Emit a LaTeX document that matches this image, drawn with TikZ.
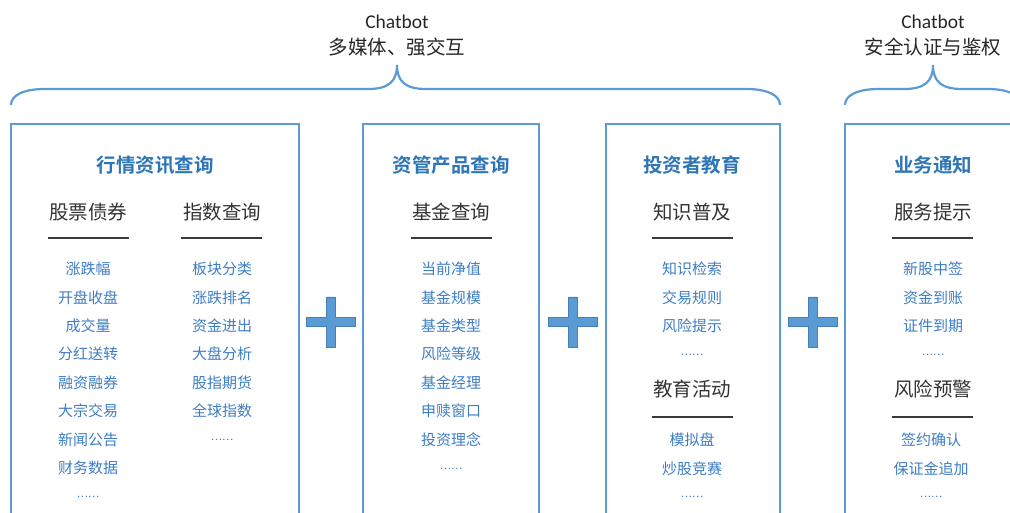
\documentclass[tikz,border=0pt]{standalone}
\usepackage{fontspec}
\setmainfont{Carlito}
\newfontfamily\cjk{Noto Sans CJK SC}[BoldFont={Noto Sans CJK SC Bold}]
\usetikzlibrary{positioning}
\definecolor{frame}{HTML}{5B9BD5}
\definecolor{headblue}{HTML}{2E75B6}
\definecolor{itemblue}{HTML}{3D7DC3}
\definecolor{rulegray}{HTML}{3A3A3A}
\definecolor{plusedge}{HTML}{4A7FB5}

\begin{document}
\begin{tikzpicture}[x=1pt,y=-1pt,
  panel/.style={draw=frame,line width=2.6pt},
  bracket/.style={draw=frame,line width=2.2pt},
  heading/.style={font=\cjk\bfseries\fontsize{19.5}{22}\selectfont,text=headblue,inner sep=0pt},
  subhead/.style={font=\cjk\fontsize{19.5}{22}\selectfont,text=black!80,inner sep=0pt},
  entry/.style={font=\cjk\fontsize{15}{18}\selectfont,text=itemblue,inner sep=0pt},
  more/.style={font=\cjk\fontsize{10.5}{12}\selectfont,text=itemblue,inner sep=0pt},
  rule/.style={draw=rulegray,line width=1.8pt},
  caption/.style={font=\fontsize{19.5}{22}\selectfont,text=black!85,inner sep=0pt},
  plus sign/.style={fill=frame,draw=plusedge,line width=0.6pt},
]
\useasboundingbox (0,0) rectangle (1010,513);
\clip (0,0) rectangle (1010,513);

% captions and braces
\node[caption] (bot-a) at (397,22) {Chatbot};
\node[caption,font=\cjk\fontsize{19.5}{22}\selectfont] (bot-a-text) at (397,47) {多媒体、强交互};
\node[caption] (bot-b) at (933,22) {Chatbot};
\node[caption,font=\cjk\fontsize{19.5}{22}\selectfont] (bot-b-text) at (933,47) {安全认证与鉴权};
\draw[bracket] (11,105) .. controls (11,95) and (24,89) .. (45,89) -- (368,89)
  .. controls (388,89) and (397,82) .. (397,65) .. controls (397,82) and (406,89) .. (426,89)
  -- (746,89) .. controls (767,89) and (780,95) .. (780,105);
\draw[bracket] (845,105) .. controls (845,95) and (858,89) .. (879,89) -- (904,89)
  .. controls (924,89) and (933,82) .. (933,65) .. controls (933,82) and (942,89) .. (962,89)
  -- (987,89) .. controls (1008,89) and (1021,95) .. (1021,105);

% panels
\draw[panel] (11,530) -- (11,124) -- (299,124) -- (299,530);
\draw[panel] (363,530) -- (363,124) -- (539,124) -- (539,530);
\draw[panel] (606,530) -- (606,124) -- (780,124) -- (780,530);
\draw[panel] (845,530) -- (845,124) -- (1021,124) -- (1021,530);

% plus signs
\foreach \px in {331,573,813} {
  \begin{scope}[shift={(\px,322)}]
  \filldraw[plus sign] (-24.5,-4.6) -- (-4.6,-4.6) -- (-4.6,-25) -- (4.6,-25) -- (4.6,-4.6)
    -- (24.5,-4.6) -- (24.5,4.6) -- (4.6,4.6) -- (4.6,25) -- (-4.6,25) -- (-4.6,4.6)
    -- (-24.5,4.6) -- cycle;
  \end{scope}
}

% panel 1
\node[heading] (quote) at (155,165) {行情资讯查询};
\node[subhead] (stock) at (88,212) {股票债券};
\node[subhead] (index) at (222,212) {指数查询};
\draw[rule] (48,238) -- (129,238);
\draw[rule] (181,238) -- (262,238);
\foreach[count=\i] \t in {涨跌幅,开盘收盘,成交量,分红送转,融资融券,大宗交易,新闻公告,财务数据}
  \node[entry] (stock-\i) at (88,{240.6+28.4*\i}) {\t};
\node[more] (stock-more) at (88,497) {……};
\foreach[count=\i] \t in {板块分类,涨跌排名,资金进出,大盘分析,股指期货,全球指数}
  \node[entry] (index-\i) at (222,{240.6+28.4*\i}) {\t};
\node[more] (index-more) at (222,440) {……};

% panel 2
\node[heading] (asset) at (451,165) {资管产品查询};
\node[subhead] (fund) at (451,212) {基金查询};
\draw[rule] (411,238) -- (492,238);
\foreach[count=\i] \t in {当前净值,基金规模,基金类型,风险等级,基金经理,申赎窗口,投资理念}
  \node[entry] (fund-\i) at (451,{240.6+28.4*\i}) {\t};
\node[more] (fund-more) at (451,469) {……};

% panel 3
\node[heading] (edu) at (692,165) {投资者教育};
\node[subhead] (know) at (692,212) {知识普及};
\draw[rule] (652,238) -- (733,238);
\foreach[count=\i] \t in {知识检索,交易规则,风险提示}
  \node[entry] (know-\i) at (692,{240.6+28.4*\i}) {\t};
\node[more] (know-more) at (692,355) {……};
\node[subhead] (event) at (692,389) {教育活动};
\draw[rule] (652,417) -- (733,417);
\foreach[count=\i] \t in {模拟盘,炒股竞赛}
  \node[entry] (event-\i) at (692,{411.6+28.4*\i}) {\t};
\node[more] (event-more) at (692,497) {……};

% panel 4
\node[heading] (notice) at (933,165) {业务通知};
\node[subhead] (service) at (933,212) {服务提示};
\draw[rule] (892,238) -- (973,238);
\foreach[count=\i] \t in {新股中签,资金到账,证件到期}
  \node[entry] (service-\i) at (933,{240.6+28.4*\i}) {\t};
\node[more] (service-more) at (933,355) {……};
\node[subhead] (risk) at (933,389) {风险预警};
\draw[rule] (892,417) -- (973,417);
\foreach[count=\i] \t in {签约确认,保证金追加}
  \node[entry] (risk-\i) at (931,{411.6+28.4*\i}) {\t};
\node[more] (risk-more) at (931,497) {……};
\end{tikzpicture}
\end{document}
